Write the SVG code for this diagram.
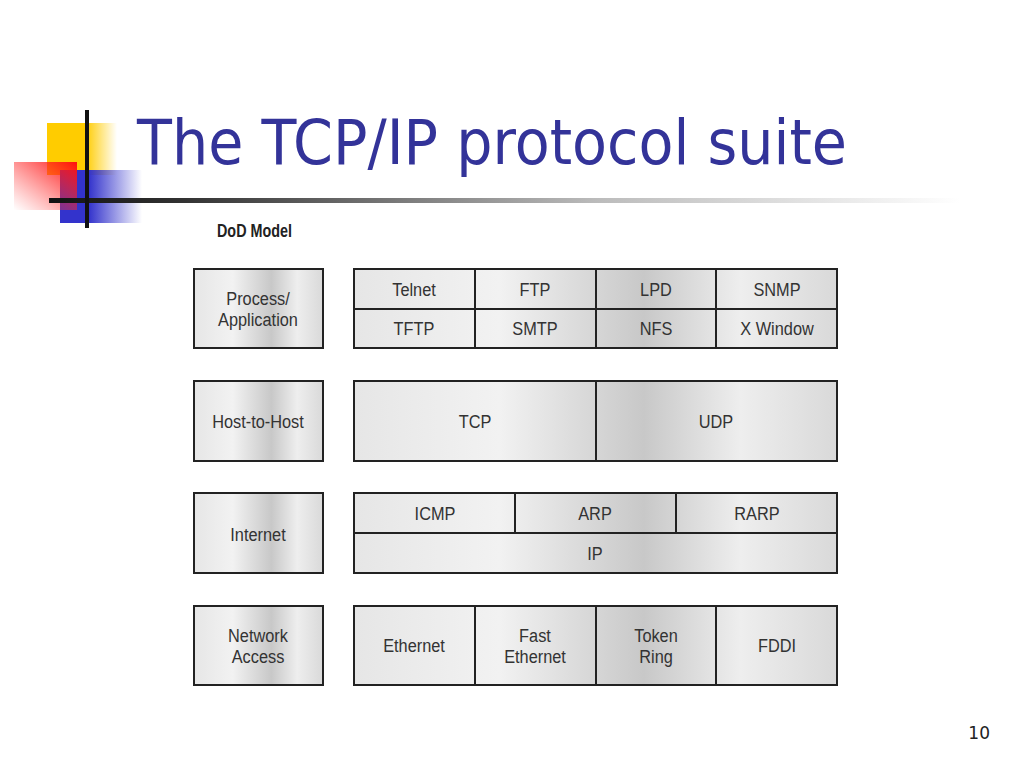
<svg xmlns="http://www.w3.org/2000/svg" width="1024" height="768" viewBox="0 0 1024 768">
<defs>
<linearGradient id="metal" x1="0" y1="0" x2="1" y2="0">
<stop offset="0" stop-color="#e6e6e6"/>
<stop offset="0.3" stop-color="#f2f2f2"/>
<stop offset="0.6" stop-color="#c8c8c8"/>
<stop offset="0.8" stop-color="#eeeeee"/>
<stop offset="1" stop-color="#d9d9d9"/>
</linearGradient>
<linearGradient id="yel" x1="0" y1="0" x2="1" y2="0">
<stop offset="0" stop-color="#ffcc00"/>
<stop offset="0.55" stop-color="#ffcc00"/>
<stop offset="1" stop-color="#ffcc00" stop-opacity="0"/>
</linearGradient>
<linearGradient id="red" x1="1" y1="0" x2="0" y2="1">
<stop offset="0" stop-color="#ff1010"/>
<stop offset="1" stop-color="#ff4040" stop-opacity="0"/>
</linearGradient>
<linearGradient id="blu" x1="0" y1="0" x2="1" y2="0">
<stop offset="0" stop-color="#3333cc"/>
<stop offset="0.35" stop-color="#3333cc"/>
<stop offset="1" stop-color="#3333cc" stop-opacity="0"/>
</linearGradient>
<linearGradient id="rule" x1="0" y1="0" x2="1" y2="0">
<stop offset="0" stop-color="#111111"/>
<stop offset="0.15" stop-color="#333333"/>
<stop offset="0.6" stop-color="#bbbbbb"/>
<stop offset="1" stop-color="#ffffff"/>
</linearGradient>
</defs>
<style>
.box{fill:url(#metal);stroke:#222;stroke-width:2}
.div{stroke:#222;stroke-width:2;fill:none}
.lbl{font-family:"Liberation Sans",Arial,sans-serif;font-size:19px;fill:#333;text-anchor:middle}
</style>
<rect width="1024" height="768" fill="#ffffff"/>
<g id="logo">
<rect x="47" y="123" width="70" height="52" fill="url(#yel)"/>
<rect x="60" y="170" width="82" height="53" fill="url(#blu)"/>
<rect x="14" y="162" width="63" height="48" fill="url(#red)"/>
<rect x="49" y="198" width="911" height="5" fill="url(#rule)"/>
<rect x="85" y="110" width="4" height="118" fill="#111"/>
</g>
<text id="title" x="137" y="164" font-family="Tahoma,'DejaVu Sans',Verdana,sans-serif" font-size="62" fill="#333399" textLength="710" lengthAdjust="spacingAndGlyphs">The TCP/IP protocol suite</text>
<text id="dod" transform="translate(217 237) scale(0.82 1)" font-family="'Liberation Sans',Arial,sans-serif" font-weight="bold" font-size="17.5" fill="#222">DoD Model</text>
<g id="process-application">
<rect class="box" x="194" y="269" width="129" height="79"/>
<text class="lbl" transform="translate(258 305) scale(0.86 1)">Process/</text>
<text class="lbl" transform="translate(258 326) scale(0.86 1)">Application</text>
</g>
<g id="host-to-host">
<rect class="box" x="194" y="381" width="129" height="80"/>
<text class="lbl" transform="translate(258 428) scale(0.86 1)">Host-to-Host</text>
</g>
<g id="internet">
<rect class="box" x="194" y="493" width="129" height="80"/>
<text class="lbl" transform="translate(258 541) scale(0.86 1)">Internet</text>
</g>
<g id="network-access">
<rect class="box" x="194" y="606" width="129" height="79"/>
<text class="lbl" transform="translate(258 642) scale(0.86 1)">Network</text>
<text class="lbl" transform="translate(258 663) scale(0.86 1)">Access</text>
</g>
<g id="application-protocols">
<rect class="box" x="354" y="269" width="483" height="79"/>
<path class="div" d="M354 309H837M475 269V348M596 269V348M716 269V348"/>
<text class="lbl" transform="translate(414 296) scale(0.86 1)">Telnet</text>
<text class="lbl" transform="translate(535 296) scale(0.86 1)">FTP</text>
<text class="lbl" transform="translate(656 296) scale(0.86 1)">LPD</text>
<text class="lbl" transform="translate(777 296) scale(0.86 1)">SNMP</text>
<text class="lbl" transform="translate(414 335) scale(0.86 1)">TFTP</text>
<text class="lbl" transform="translate(535 335) scale(0.86 1)">SMTP</text>
<text class="lbl" transform="translate(656 335) scale(0.86 1)">NFS</text>
<text class="lbl" transform="translate(777 335) scale(0.86 1)">X Window</text>
</g>
<g id="transport-protocols">
<rect class="box" x="354" y="381" width="483" height="80"/>
<path class="div" d="M596 381V461"/>
<text class="lbl" transform="translate(475 428) scale(0.86 1)">TCP</text>
<text class="lbl" transform="translate(716 428) scale(0.86 1)">UDP</text>
</g>
<g id="internet-protocols">
<rect class="box" x="354" y="493" width="483" height="80"/>
<path class="div" d="M354 533H837M515 493V533M676 493V533"/>
<text class="lbl" transform="translate(435 520) scale(0.86 1)">ICMP</text>
<text class="lbl" transform="translate(595 520) scale(0.86 1)">ARP</text>
<text class="lbl" transform="translate(757 520) scale(0.86 1)">RARP</text>
<text class="lbl" transform="translate(595 560) scale(0.86 1)">IP</text>
</g>
<g id="network-protocols">
<rect class="box" x="354" y="606" width="483" height="79"/>
<path class="div" d="M475 606V685M596 606V685M716 606V685"/>
<text class="lbl" transform="translate(414 652) scale(0.86 1)">Ethernet</text>
<text class="lbl" transform="translate(535 642) scale(0.86 1)">Fast</text>
<text class="lbl" transform="translate(535 663) scale(0.86 1)">Ethernet</text>
<text class="lbl" transform="translate(656 642) scale(0.86 1)">Token</text>
<text class="lbl" transform="translate(656 663) scale(0.86 1)">Ring</text>
<text class="lbl" transform="translate(777 652) scale(0.86 1)">FDDI</text>
</g>
<g id="connectors"/>
<text id="page" x="990" y="739" font-family="Tahoma,'DejaVu Sans',sans-serif" font-size="17" fill="#222" text-anchor="end">10</text>
</svg>
